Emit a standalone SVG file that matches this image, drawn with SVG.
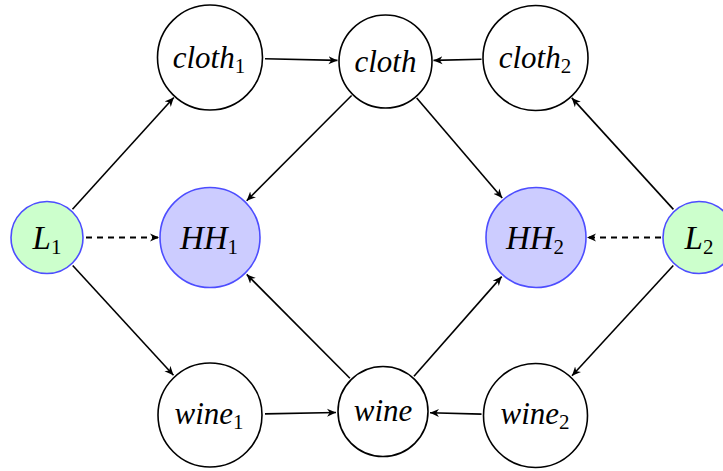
<svg xmlns="http://www.w3.org/2000/svg" width="723" height="471" viewBox="0 0 723 471">
<defs>
<marker id="arr" viewBox="0 0 10 10" refX="10" refY="5" markerWidth="9" markerHeight="9" markerUnits="userSpaceOnUse" orient="auto">
<path d="M0,0.5 L10,5 L0,9.5 L3,5 z" fill="#000"/>
</marker>
<style>
.n{fill:#fff;stroke:#000;stroke-width:1.6}
.hh{fill:#ccccff;stroke:#4d4dff;stroke-width:1.6}
.l{fill:#ccffcc;stroke:#4d4dff;stroke-width:1.6}
text{font-family:"Liberation Serif","Times New Roman",serif;font-style:italic;font-size:31px;text-anchor:middle;fill:#000}
.big{font-size:33px}
.s{font-size:21px;font-style:normal}
.e{stroke:#000;stroke-width:1.6;fill:none;marker-end:url(#arr)}
.d{stroke-dasharray:6,5;stroke-width:1.8}
</style>
</defs>
<g id="connectors">
<line class="e" x1="72.5" y1="209.3" x2="173.8" y2="97.5"/>
<line class="e" x1="72.7" y1="265.5" x2="173.5" y2="375.2"/>
<line class="e d" x1="86" y1="237.5" x2="159" y2="237.5"/>
<line class="e" x1="265" y1="58.8" x2="337.5" y2="60.4"/>
<line class="e" x1="481.5" y1="59.3" x2="433.5" y2="60.4"/>
<line class="e" x1="351.6" y1="95.5" x2="246.7" y2="200.7"/>
<line class="e" x1="416.7" y1="98" x2="502.2" y2="198"/>
<line class="e" x1="349.9" y1="378.2" x2="246.7" y2="274.4"/>
<line class="e" x1="414" y1="376.2" x2="501.7" y2="276.6"/>
<line class="e" x1="265" y1="413.9" x2="336" y2="412.5"/>
<line class="e" x1="481.5" y1="414.1" x2="430" y2="412.7"/>
<line class="e" x1="673.4" y1="209.4" x2="571.8" y2="97.9"/>
<line class="e" x1="673.3" y1="265.5" x2="572" y2="375.8"/>
<line class="e d" x1="661" y1="237.5" x2="587" y2="237.5"/>
</g>
<g id="cloth1"><circle class="n" cx="210" cy="57.5" r="52.5"/><text x="209" y="67.5">cloth<tspan class="s" dy="5">1</tspan></text></g>
<g id="cloth"><circle class="n" cx="385.5" cy="61.5" r="46.5"/><text x="385.5" y="72">cloth</text></g>
<g id="cloth2"><circle class="n" cx="535.5" cy="58" r="52.5"/><text x="535" y="68">cloth<tspan class="s" dy="5">2</tspan></text></g>
<g id="L1"><circle class="l" cx="47" cy="237.5" r="36"/><text class="big" x="47" y="248.5">L<tspan class="s" dy="5">1</tspan></text></g>
<g id="HH1"><circle class="hh" cx="210" cy="237.5" r="50"/><text class="big" x="209" y="248.5">HH<tspan class="s" dy="5">1</tspan></text></g>
<g id="HH2"><circle class="hh" cx="536" cy="237.5" r="50"/><text class="big" x="535" y="248.5">HH<tspan class="s" dy="5">2</tspan></text></g>
<g id="L2"><circle class="l" cx="699" cy="237.5" r="36"/><text class="big" x="699" y="248.5">L<tspan class="s" dy="5">2</tspan></text></g>
<g id="wine1"><circle class="n" cx="210" cy="415" r="52"/><text x="209" y="423.5">wine<tspan class="s" dy="5">1</tspan></text></g>
<g id="wine"><circle class="n" cx="383" cy="411.5" r="45"/><text x="383" y="420.5">wine</text></g>
<g id="wine2"><circle class="n" cx="535.5" cy="415.5" r="52"/><text x="535" y="424">wine<tspan class="s" dy="5">2</tspan></text></g>
</svg>
